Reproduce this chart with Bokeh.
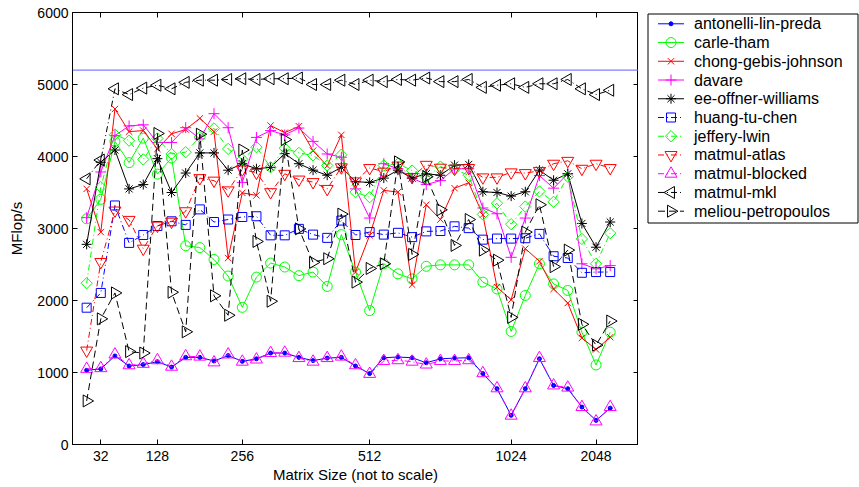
import numpy as np
from bokeh.plotting import figure
from bokeh.layouts import row
from bokeh.models import Range1d, FixedTicker, LinearAxis, Span
from bokeh.core.properties import value
from bokeh.embed import file_html
from bokeh.resources import INLINE

# ---------------- data ----------------
matrix_size_ticks = [2, 6, 12, 21, 31, 37]
matrix_size_labels = ["32", "128", "256", "512", "1024", "2048"]
mflops_ticks = [0, 1000, 2000, 3000, 4000, 5000, 6000]
peak_mflops = 5200

antonelli_lin_preda = [1030, 1050, 1230, 1090, 1110, 1150, 1075, 1210, 1210, 1160, 1235, 1155, 1190, 1270, 1270,
                       1210, 1165, 1200, 1210, 1090, 985, 1205, 1215, 1205, 1135, 1190, 1200, 1205, 985, 775,
                       405, 775, 1190, 820, 775, 520, 335, 505]
carle_tham = [3135, 3405, 4210, 3915, 4255, 3755, 3980, 2760, 2735, 2570, 2340, 1905, 2325, 2520, 2465,
              2345, 2395, 2195, 2915, 2395, 1860, 2510, 2370, 2300, 2475, 2495, 2495, 2495, 2255, 2160,
              1570, 2070, 2510, 2230, 2140, 1560, 1105, 1560]
chong_gebis_johnson = [3550, 2950, 4660, 4345, 4360, 4105, 4315, 4375, 4530, 4345, 2590, 3495, 3460, 4430, 4330,
                       4420, 4080, 3870, 4300, 2395, 2905, 3530, 3505, 2220, 3330, 3125, 3560, 3635, 3190, 2185,
                       2010, 2720, 2545, 2160, 1965, 1480, 1320, 1490]
davare = [3150, 3785, 4290, 4425, 4440, 4195, 4195, 4400, 4245, 4595, 4400, 3640, 4265, 4360, 4300,
          4395, 4210, 4035, 3990, 3550, 3145, 3900, 3830, 3700, 3610, 3665, 3830, 3830, 3285, 3205,
          2600, 3145, 3735, 3560, 3760, 2510, 2440, 2485]
ee_offner_williams = [2780, 3920, 4090, 3550, 3610, 3970, 3500, 3770, 4050, 4050, 3810, 3900, 3830, 3850, 4040,
                      3900, 3810, 3740, 3850, 3650, 3640, 3700, 3810, 3700, 3760, 3740, 3880, 3890, 3510, 3500,
                      3450, 3510, 3810, 3670, 3760, 3070, 2740, 3090]
huang_tu_chen = [1900, 2105, 3320, 2800, 2910, 3035, 3100, 3050, 3265, 3090, 3125, 3160, 3170, 2905, 2905,
                 2995, 2915, 2870, 3110, 2910, 2950, 2915, 2940, 2880, 2960, 2965, 3030, 3005, 2845, 2860,
                 2860, 2865, 2925, 2615, 2590, 2385, 2395, 2395]
jeffery_lwin = [2240, 3575, 4305, 4220, 3960, 4250, 4035, 4060, 4270, 4390, 4105, 3960, 4130, 3850, 4115,
                4050, 4015, 3875, 4025, 3505, 3435, 3875, 3900, 3805, 3715, 3860, 3820, 3740, 3195, 3350,
                3060, 3305, 3515, 3370, 3720, 2855, 2510, 2935]
matmul_atlas = [1305, 2535, 3250, 3120, 2720, 3040, 3095, 3240, 3700, 3665, 3530, 3820, 3775, 3505, 3760,
                3680, 3645, 3550, 3850, 3655, 3840, 3790, 3875, 3715, 3885, 3845, 3830, 3840, 3710, 3710,
                3780, 3770, 3800, 3900, 3940, 3830, 3900, 3840]
matmul_blocked = [1050, 1060, 1250, 1100, 1120, 1170, 1080, 1225, 1220, 1140, 1250, 1150, 1180, 1270, 1275,
                  1200, 1150, 1200, 1220, 1100, 980, 1160, 1170, 1150, 1110, 1160, 1160, 1170, 990, 780,
                  400, 780, 1200, 820, 790, 520, 320, 520]
matmul_mkl = [3690, 3950, 4940, 4860, 4950, 4990, 4940, 5030, 5060, 5060, 5070, 5080, 5070, 5080, 5080,
              5090, 5000, 5000, 5060, 5000, 5060, 5040, 5070, 5060, 5090, 5040, 5040, 5070, 4960, 4990,
              5010, 4960, 5010, 5010, 5070, 4940, 4860, 4920]
meliou_petropoulos = [605, 1745, 2105, 1290, 1270, 4320, 2115, 1565, 4310, 2065, 1795, 4090, 2820, 1990, 4235,
                      2995, 2530, 2580, 3200, 2255, 2445, 2510, 3925, 2640, 3720, 3260, 2765, 3125, 2700, 2560,
                      1765, 2950, 3330, 2470, 2700, 1670, 1380, 1715]

series_names = ["antonelli-lin-preda", "carle-tham", "chong-gebis-johnson", "davare",
                "ee-offner-williams", "huang-tu-chen", "jeffery-lwin", "matmul-atlas",
                "matmul-blocked", "matmul-mkl", "meliou-petropoulos"]
series_values = [antonelli_lin_preda, carle_tham, chong_gebis_johnson, davare, ee_offner_williams,
                 huang_tu_chen, jeffery_lwin, matmul_atlas, matmul_blocked, matmul_mkl, meliou_petropoulos]

# ---------------- styles ----------------
BLUE, GREEN, RED, MAG, BLACK = "#0000ff", "#00ff00", "#ff0000", "#ff00ff", "#000000"
DASHDOT = "6 3 1 3"
DASHED = "7 4"
# (color, dash, marker, size, angle, fill)
styles = [
    (BLUE, "solid", "circle", 4, 0.0, BLUE),
    (GREEN, "solid", "circle", 10, 0.0, None),
    (RED, "solid", "x", 9, 0.0, None),
    (MAG, "solid", "cross", 11, 0.0, None),
    (BLACK, "solid", "asterisk", 10, 0.0, None),
    (BLUE, DASHDOT, "square", 9, 0.0, None),
    (GREEN, DASHDOT, "square", 8, np.pi / 4, None),
    (RED, DASHDOT, "inverted_triangle", 12, 0.0, None),
    (MAG, DASHDOT, "triangle", 12, 0.0, None),
    (BLACK, DASHDOT, "triangle", 12, np.pi / 2, None),
    (BLACK, DASHED, "triangle", 12, -np.pi / 2, None),
]

FONT = "Liberation Sans"
H = 487
MAIN_W = 638
LEG_W = 221
BORDER_TOP, BORDER_BOTTOM = 12, 43

# ---------------- main plot ----------------
p = figure(width=MAIN_W, height=H, output_backend="svg", toolbar_location=None,
           x_range=Range1d(0, 40), y_range=Range1d(0, 6000),
           min_border_left=72, min_border_right=0, min_border_top=BORDER_TOP,
           min_border_bottom=BORDER_BOTTOM)
p.xgrid.visible = False
p.ygrid.visible = False
p.outline_line_color = "black"
p.outline_line_alpha = 1.0
p.background_fill_color = "white"
p.border_fill_color = "white"

x = list(range(1, len(antonelli_lin_preda) + 1))

p.add_layout(Span(location=peak_mflops, dimension="width", line_color="#5f5fff", line_width=1))

for vals, (col, dash, mk, sz, ang, fill) in zip(series_values, styles):
    p.line(x, vals, line_color=col, line_width=1, line_dash=dash)
    p.scatter(x, vals, marker=mk, size=sz, angle=ang, line_color=col, line_width=1,
              fill_color=fill, fill_alpha=1.0 if fill else 0.0)

def style_axis(ax, show_labels=True):
    ax.major_tick_in = 5
    ax.major_tick_out = 0
    ax.minor_tick_line_color = None
    ax.axis_line_color = "black"
    ax.major_tick_line_color = "black"
    ax.major_label_text_font = FONT
    if show_labels:
        ax.major_label_text_color = "black"
        ax.major_label_text_font_size = "14px"
    else:
        ax.major_label_text_color = None
        ax.major_label_text_font_size = "1px"
        ax.major_label_standoff = 0
        ax.axis_label_standoff = 0
    ax.axis_label_text_font = FONT
    ax.axis_label_text_font_size = "15px"
    ax.axis_label_text_font_style = "normal"
    ax.axis_label_text_color = "black"

xa = p.xaxis[0]
xa.ticker = FixedTicker(ticks=matrix_size_ticks)
xa.major_label_overrides = {t: l for t, l in zip(matrix_size_ticks, matrix_size_labels)}
xa.axis_label = "Matrix Size (not to scale)"
style_axis(xa)
xa.major_label_standoff = 6
xa.axis_label_standoff = 2

ya = p.yaxis[0]
ya.ticker = FixedTicker(ticks=mflops_ticks)
ya.axis_label = "MFlop/s"
style_axis(ya)
ya.major_label_standoff = 4
ya.axis_label_standoff = 9

top_ax = LinearAxis(ticker=FixedTicker(ticks=matrix_size_ticks))
style_axis(top_ax, show_labels=False)
p.add_layout(top_ax, "above")
right_ax = LinearAxis(ticker=FixedTicker(ticks=mflops_ticks))
style_axis(right_ax, show_labels=False)
p.add_layout(right_ax, "right")

# ---------------- legend panel ----------------
FRAME_H = H - BORDER_TOP - BORDER_BOTTOM
leg = figure(width=LEG_W, height=H, output_backend="svg", toolbar_location=None,
             x_range=Range1d(0, LEG_W), y_range=Range1d(FRAME_H, 0),
             min_border_left=0, min_border_right=0, min_border_top=BORDER_TOP,
             min_border_bottom=BORDER_BOTTOM)
leg.axis.visible = False
leg.xgrid.visible = False
leg.ygrid.visible = False
leg.outline_line_color = None
leg.background_fill_color = "white"
leg.border_fill_color = "white"

BOX_L, BOX_R, BOX_T, BOX_B = 9.5, 219.5, 1.5, 210.5
ITEM_TOP, ITEM_STEP = 11.3, 18.74
GLYPH_X0, GLYPH_X1, TEXT_X = BOX_L + 10, BOX_L + 36, BOX_L + 46
leg.quad(left=[BOX_L], right=[BOX_R], top=[BOX_T], bottom=[BOX_B],
         fill_color="white", line_color="black", line_width=1)
item_y = [ITEM_TOP + ITEM_STEP * i for i in range(len(series_names))]
for yy, (col, dash, mk, sz, ang, fill) in zip(item_y, styles):
    leg.line([GLYPH_X0, GLYPH_X1], [yy, yy], line_color=col, line_width=1, line_dash=dash)
    leg.scatter([(GLYPH_X0 + GLYPH_X1) / 2], [yy], marker=mk, size=sz, angle=ang, line_color=col,
                line_width=1, fill_color=fill, fill_alpha=1.0 if fill else 0.0)
leg.text(x=[TEXT_X] * len(series_names), y=item_y, text=series_names,
         text_font=value(FONT), text_font_size="16px", text_color="black",
         text_align="left", text_baseline="middle")

open("out.html", "w").write(file_html(row(p, leg), INLINE))
